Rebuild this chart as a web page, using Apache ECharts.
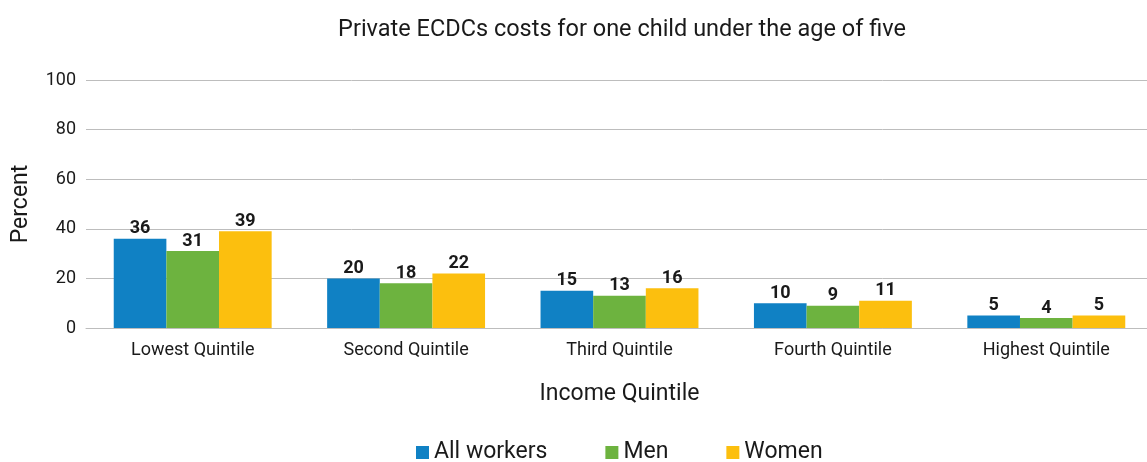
<!DOCTYPE html>
<html>
<head>
<meta charset="utf-8">
<script src="https://cdn.jsdelivr.net/npm/echarts@6/dist/echarts.min.js"></script>
<style>
  html, body { margin: 0; padding: 0; background: #fff; }
  #chart { width: 1147px; height: 462px; }
</style>
</head>
<body>
<div id="chart"></div>
<script>
// categories and series values
const quintiles = ['Lowest Quintile', 'Second Quintile', 'Third Quintile', 'Fourth Quintile', 'Highest Quintile']
const allWorkers = [36, 20, 15, 10, 5]
const men = [31, 18, 13, 9, 4]
const women = [39, 22, 16, 11, 5]
const yTicks = [0, 20, 40, 60, 80, 100]

const font = 'Roboto, "Noto Sans", sans-serif'
const textColor = '#1a1a1a'

function makeSeries(name, data, color) {
  return {
    name,
    type: 'bar',
    data,
    barGap: '0%',
    barCategoryGap: '26%',
    itemStyle: { color },
    label: {
      show: true,
      position: 'top',
      distance: 1,
      fontFamily: font,
      fontWeight: 'bold',
      fontSize: 18,
      color: textColor,
    },
  }
}

const chart = echarts.init(document.getElementById('chart'))

const option = {
  backgroundColor: '#fff',
  animation: false,
  textStyle: { fontFamily: font },
  title: {
    text: 'Private ECDCs costs for one child under the age of five',
    left: 617,
    textAlign: 'center',
    top: 13,
    textStyle: { fontFamily: font, fontSize: 23.5, fontWeight: 'normal', color: textColor },
  },
  grid: {
    left: 86,
    right: -6,
    top: 80,
    bottom: 134,
    outerBoundsMode: 'none',
  },
  legend: {
    top: 436,
    left: 411,
    itemWidth: 13,
    itemHeight: 13,
    itemGap: 58,
    icon: 'rect',
    textStyle: { fontFamily: font, fontSize: 23, color: textColor },
  },
  xAxis: {
    type: 'category',
    data: quintiles,
    name: 'Income Quintile',
    nameLocation: 'middle',
    nameGap: 55,
    nameTextStyle: { fontFamily: font, fontSize: 23, color: textColor },
    axisLine: { show: true, lineStyle: { color: '#bdbdbd', width: 1 } },
    axisTick: { show: false },
    axisLabel: { fontFamily: font, fontSize: 18, color: textColor, margin: 13 },
  },
  yAxis: {
    type: 'value',
    min: yTicks[0],
    max: yTicks[yTicks.length - 1],
    interval: 20,
    name: 'Percent',
    nameLocation: 'middle',
    nameGap: 53,
    nameTextStyle: { fontFamily: font, fontSize: 23, color: textColor },
    axisLine: { show: false },
    axisTick: { show: false },
    axisLabel: { fontFamily: font, fontSize: 18, color: textColor, margin: 10 },
    splitLine: { lineStyle: { color: '#bdbdbd', width: 1 } },
  },
  series: [
    makeSeries('All workers', allWorkers, '#1081c4'),
    makeSeries('Men', men, '#6db33f'),
    makeSeries('Women', women, '#fcbf0e'),
  ],
}

chart.setOption(option)
</script>
</body>
</html>
